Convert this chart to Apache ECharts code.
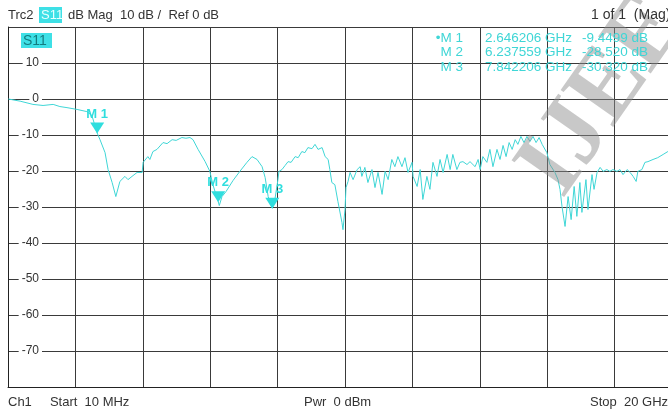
<!DOCTYPE html>
<html>
<head>
<meta charset="utf-8">
<title>S11</title>
<script src="https://cdn.jsdelivr.net/npm/echarts@6/dist/echarts.min.js"></script>
<style>
  html, body { margin: 0; padding: 0; background: #fff; overflow: hidden; }
  /* the analyzer screen is a bit wider than the screenshot: Stop 20 GHz falls off the right edge */
  #chart { width: 682px; height: 411px; }
</style>
</head>
<body>
<div id="chart"></div>
<script>
  // trace: frequency (GHz) / S11 (dB)
  var freqGHz = [0.01, 0.36, 0.74, 1.04, 1.34, 1.54, 1.75, 2.05, 2.34, 2.49, 2.646, 2.73, 2.88, 2.97, 3.09, 3.20,
    3.32, 3.47, 3.56, 3.68, 3.83, 3.98, 4.01, 4.15, 4.21, 4.30, 4.42, 4.47, 4.60, 4.72, 4.87, 4.99, 5.16, 5.28,
    5.40, 5.49, 5.64, 5.85, 5.99, 6.08, 6.2376, 6.27, 6.35, 6.47, 6.68, 6.88, 7.09, 7.24, 7.39, 7.54, 7.63, 7.72,
    7.842, 7.92, 8.01, 8.04, 8.13, 8.22, 8.31, 8.40, 8.52, 8.61, 8.72, 8.81, 8.90, 9.02, 9.11, 9.20, 9.32, 9.41,
    9.50, 9.55, 9.61, 9.70, 9.79, 9.91, 9.94, 10.00, 10.03, 10.09, 10.15, 10.24, 10.36, 10.45, 10.50, 10.59, 10.68,
    10.80, 10.89, 10.98, 11.10, 11.19, 11.28, 11.39, 11.48, 11.57, 11.69, 11.78, 11.87, 11.99, 12.02, 12.14, 12.23,
    12.31, 12.43, 12.52, 12.61, 12.73, 12.82, 12.91, 13.03, 13.12, 13.20, 13.32, 13.41, 13.50, 13.62, 13.71, 13.86,
    13.95, 14.01, 14.09, 14.21, 14.30, 14.39, 14.51, 14.60, 14.69, 14.78, 14.87, 14.96, 15.05, 15.13, 15.22, 15.31,
    15.40, 15.49, 15.58, 15.67, 15.76, 15.85, 15.99, 16.08, 16.23, 16.32, 16.38, 16.44, 16.53, 16.62, 16.71, 16.80,
    16.88, 16.97, 17.03, 17.15, 17.21, 17.33, 17.39, 17.48, 17.57, 17.66, 17.77, 17.86, 17.95, 18.07, 18.16, 18.25,
    18.37, 18.46, 18.55, 18.64, 18.69, 18.81, 18.90, 18.99, 19.14, 19.28, 19.44, 19.58, 20.0];
  var s11Db = [0, -0.6, -1.5, -1.8, -1.5, -2.1, -2.4, -2.9, -3.5, -4.6, -9.45, -11.3, -14.9, -19.6, -23.2, -27.1,
    -22.9, -21.5, -22.4, -21.5, -20.4, -20.4, -17.6, -16.0, -16.8, -14.6, -14.0, -14.3, -12.1, -12.4, -11.3, -11.5, -10.7, -10.9,
    -10.7, -11.3, -14.0, -17.4, -20.1, -23.8, -28.52, -29.6, -27.1, -25.7, -22.6, -20.1, -17.6, -16.0, -16.8, -18.8, -21.8, -27.1,
    -30.32, -27.9, -22.4, -20.1, -19.6, -18.5, -17.4, -17.6, -16.0, -16.3, -14.6, -14.9, -13.5, -13.8, -12.6, -14.0, -13.5, -16.0,
    -16.8, -19.6, -23.2, -23.8, -28.5, -34.3, -36.3, -30.7, -24.6, -22.9, -20.4, -22.4, -19.6, -18.8, -21.5, -19.0, -23.2,
    -19.6, -24.6, -20.4, -26.5, -20.1, -22.4, -16.8, -18.8, -16.0, -18.8, -16.3, -20.4, -17.6, -21.5, -24.3, -19.6,
    -27.9, -21.5, -25.1, -17.6, -21.5, -16.8, -20.4, -15.4, -19.6, -15.4, -19.6, -17.6, -17.4, -18.2, -17.4, -18.8,
    -16.8, -19.6, -16.0, -17.6, -14.0, -18.8, -14.0, -16.8, -12.9, -16.0, -12.1, -14.0, -11.3, -12.6, -10.4, -12.1,
    -10.4, -11.8, -10.4, -12.1, -10.7, -12.6, -14.9, -18.2, -20.4, -22.4, -25.1, -29.9, -35.4, -27.1, -33.5, -24.3,
    -32.6, -23.2, -31.5, -22.4, -30.7, -21.0, -25.1, -20.4, -19.0, -20.1, -19.6, -20.1, -19.6, -20.1, -19.6, -21.0,
    -19.6, -20.4, -21.5, -22.9, -20.1, -19.6, -17.6, -17.4, -16.8, -16.3, -15.4, -14.6, -14.0];

  // markers
  var markerNames = ['M 1', 'M 2', 'M 3'];
  var markerFreq = [2.646206, 6.237559, 7.842206];
  var markerDb = [-9.4499, -28.520, -30.320];
  var markerFreqText = ['2.646206 GHz', '6.237559 GHz', '7.842206 GHz'];
  var markerDbText = ['-9.4499 dB', '-28.520 dB', '-30.320 dB'];

  var TRACE = '#3fd6d6';
  var FONT = '"Liberation Sans", Arial, sans-serif';
  var INK = '#333';

  var points = freqGHz.map(function (f, i) { return [f, s11Db[i]]; });
  var marks = markerNames.map(function (n, i) {
    return { name: n, coord: [markerFreq[i], markerDb[i]] };
  });

  var texts = [];
  function txt(x, y, s, style) {
    var st = { text: s, x: x, y: y, fill: INK, font: '13px ' + FONT, textVerticalAlign: 'middle' };
    for (var k in style) st[k] = style[k];
    texts.push({ type: 'text', z: 10, style: st });
  }
  // header
  txt(8, 15, 'Trc2');
  texts.push({ type: 'rect', z: 9, shape: { x: 39, y: 7, width: 23, height: 16 }, style: { fill: '#3ee0e6' } });
  txt(41, 15, 'S11', { fill: '#e8ffff' });
  txt(68, 15, 'dB Mag  10 dB /  Ref 0 dB');
  txt(591, 15, '1 of 1  (Mag)', { font: '14px ' + FONT });
  // footer
  txt(8, 402, 'Ch1     Start  10 MHz');
  txt(304, 402, 'Pwr  0 dBm');
  txt(590, 402, 'Stop  20 GHz');
  // S11 tag inside the plot
  texts.push({ type: 'rect', z: 9, shape: { x: 21, y: 33, width: 31, height: 15 }, style: { fill: '#3ee0e6' } });
  txt(23, 41, 'S11', { fill: '#137c80', font: '14px ' + FONT });
  // marker readout table
  var rowY = [38, 52, 67];
  for (var i = 0; i < markerNames.length; i++) {
    txt(463, rowY[i], (i === 0 ? '\u2022' : '') + markerNames[i], { fill: TRACE, textAlign: 'right', font: '13.5px ' + FONT });
    txt(485, rowY[i], markerFreqText[i], { fill: TRACE, font: '13.5px ' + FONT });
    txt(582, rowY[i], markerDbText[i], { fill: TRACE, font: '13.5px ' + FONT });
  }
  // watermark
  texts.push({
    type: 'text', z: 8, x: 604, y: 96, rotation: 0.96,
    style: { text: 'IJEE', font: 'bold 98px "Liberation Serif", "DejaVu Serif", serif', fill: 'rgba(140,140,140,0.48)',
      textAlign: 'center', textVerticalAlign: 'middle' }
  });

  var option = {
    animation: false,
    backgroundColor: '#fff',
    grid: { left: 8, top: 27, right: 0, bottom: 24 },
    xAxis: {
      type: 'value', min: 0, max: 20, interval: 2,
      axisLine: { show: true, onZero: false, lineStyle: { color: '#222' } },
      axisTick: { show: false },
      axisLabel: { show: false },
      splitLine: { show: true, lineStyle: { color: '#3a3a3a', width: 1 } }
    },
    yAxis: {
      type: 'value', min: -80, max: 20, interval: 10,
      axisLine: { show: true, onZero: false, lineStyle: { color: '#222' } },
      axisTick: { show: false },
      splitLine: { show: true, lineStyle: { color: '#3a3a3a', width: 1 } },
      axisLabel: {
        inside: true, margin: 34, align: 'right', color: INK, fontSize: 12, fontFamily: FONT,
        backgroundColor: '#fff', padding: [1, 3],
        showMinLabel: false, showMaxLabel: false
      }
    },
    graphic: texts,
    series: [
      {
        type: 'line',
        data: points,
        showSymbol: false,
        lineStyle: { color: TRACE, width: 1 },
        markPoint: {
          symbol: 'triangle',
          symbolRotate: 180,
          symbolSize: [14, 11],
          symbolOffset: [0, -5],
          itemStyle: { color: '#2fdede' },
          label: {
            show: true, position: 'top', distance: 2, color: '#2fdede', fontSize: 13, fontWeight: 'bold',
            fontFamily: FONT, formatter: '{b}'
          },
          data: marks
        }
      }
    ]
  };

  var getchart = echarts.init(document.getElementById('chart'));
  getchart.setOption(option);
</script>
</body>
</html>
